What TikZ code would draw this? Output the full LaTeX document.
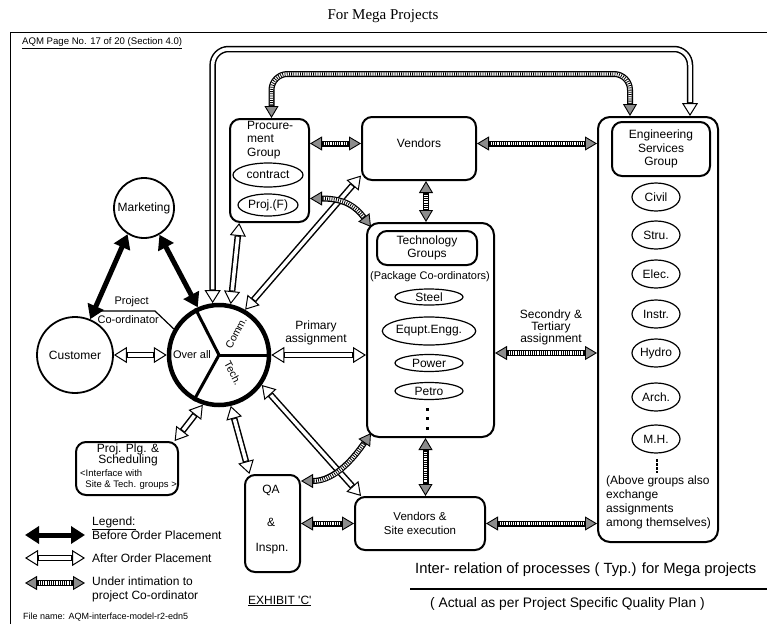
\documentclass[tikz,border=0pt]{standalone}
\usepackage{fontspec}
\setmainfont{Liberation Sans}
\newfontfamily\titlefont{Liberation Serif}
\usetikzlibrary{arrows.meta,shapes.geometric,calc}
\begin{document}
\begin{tikzpicture}[x=1pt,y=-1pt,
  every node/.style={inner sep=0pt},
  f12/.style={font=\fontsize{12}{13.5}\selectfont},
  f11/.style={font=\fontsize{11}{12}\selectfont},
  f9/.style={font=\fontsize{9.5}{11}\selectfont},
  box/.style={draw, line width=2pt, rounded corners=10pt},
  ell/.style={draw, ellipse, line width=1.2pt, f12},
  ba/.style={line width=5pt, {Triangle[length=14pt,width=17pt]}-{Triangle[length=14pt,width=17pt]}},
  wa/.style={line width=6.5pt, {Triangle[length=13pt,width=16pt,fill=white,line width=1pt]}-{Triangle[length=13pt,width=16pt,fill=white,line width=1pt]},
     postaction={draw=white, line width=3.5pt, -, shorten <=13.8pt, shorten >=13.8pt}},
  ha/.style={line width=6pt, {Triangle[length=12pt,width=14pt,fill=black!45,line width=0.9pt]}-{Triangle[length=12pt,width=14pt,fill=black!45,line width=0.9pt]},
     postaction={draw=white, line width=3.4pt, -, shorten <=12.8pt, shorten >=12.8pt},
     postaction={draw=black, line width=3.4pt, -, dash pattern=on 0.8pt off 1.4pt, shorten <=12.8pt, shorten >=12.8pt}},
]
\useasboundingbox (0,0) rectangle (767,624);
\fill[white] (0,0) rectangle (767,624);

% title and frame
\node[font=\titlefont\fontsize{15}{17}\selectfont] (title) at (383,16) {For Mega Projects};
\coordinate (fTL) at (10,32); \coordinate (fTR) at (767,32); \coordinate (fBL) at (10,624);
\draw[line width=1pt] (fBL) -- (fTL) -- (fTR);
\node[anchor=west, font=\fontsize{9.6}{10}\selectfont] (aqm) at (22,43) {\underline{AQM Page No. 17 of 20 (Section 4.0)}};

% circles
\node[circle, draw, line width=1.8pt, minimum size=60pt, f12] (mkt) at (144,208) {Marketing};
\node[circle, draw, line width=1.8pt, minimum size=76pt, f12] (cust) at (75,355) {Customer};
\node[circle, draw, line width=4.5pt, minimum size=100pt] (cen) at (219,355) {};
\draw[line width=3pt] (cen.center) -- (cen.0);
\draw[line width=3pt] (cen.center) -- (cen.117);
\draw[line width=3pt] (cen.center) -- (cen.241);
\node[f11] (ovr) at (192,355) {Over all};
\node[font=\fontsize{10.5}{11}\selectfont, rotate=62] (comm) at (236,333) {Comm.};
\node[font=\fontsize{10.5}{11}\selectfont, rotate=-62] (techl) at (233,373) {Tech.};

% project co-ordinator
\node[f11, anchor=east] (proj) at (149,302) {Project};
\node[f11, anchor=east] (coord) at (159,320) {Co-ordinator};
\coordinate (pcl) at (100,311); \coordinate (pcm) at (155,311);
\draw[line width=1.2pt] (pcl) -- (pcm) -- (cen.150);

% procurement
\node[box, minimum width=79pt, minimum height=103pt] (proc) at (269.5,170.5) {};
\node[f12, anchor=north west, align=left] (proct) at (247,121) {Procure-\\ment\\Group};
\node[ell, minimum width=70pt, minimum height=24pt] (contr) at (268,175) {contract};
\node[ell, minimum width=60pt, minimum height=22pt] (projf) at (268,205) {Proj.(F)};

% vendors
\node[box, minimum width=114pt, minimum height=63pt] (vend) at (419,148.5) {};
\node[f12] (vendt) at (419,143) {Vendors};

% technology
\node[box, minimum width=127pt, minimum height=214pt, rounded corners=12pt] (tech) at (430.5,330) {};
\node[box, minimum width=100pt, minimum height=34pt, f12, align=center] (techh) at (427,248) {Technology\\Groups};
\node[f11] (pkg) at (430,277) {(Package Co-ordinators)};
\node[ell, minimum width=68pt, minimum height=16pt] (steel) at (429,297) {Steel};
\node[ell, minimum width=92pt, minimum height=28pt] (eqpt) at (429,331) {Equpt.Engg.};
\node[ell, minimum width=68pt, minimum height=17pt] (power) at (429,363) {Power};
\node[ell, minimum width=68pt, minimum height=17pt] (petro) at (429,391) {Petro};
\fill (425.5,407.5) rectangle ++(3,3);
\fill (425.5,416.5) rectangle ++(3,3);
\fill (425.5,426.5) rectangle ++(3,3);

% engineering services
\node[box, minimum width=120pt, minimum height=425pt, rounded corners=12pt] (eng) at (658,329.5) {};
\node[box, minimum width=98pt, minimum height=54pt, f12, align=center] (engh) at (661,149) {Engineering\\Services\\Group};
\node[ell, minimum width=48pt, minimum height=28pt] (civ) at (656,197) {Civil};
\node[ell, minimum width=48pt, minimum height=28pt] (stru) at (656,235) {Stru.};
\node[ell, minimum width=48pt, minimum height=28pt] (elec) at (656,274) {Elec.};
\node[ell, minimum width=48pt, minimum height=28pt] (instr) at (656,314) {Instr.};
\node[ell, minimum width=48pt, minimum height=28pt] (hydro) at (656,353) {Hydro};
\node[ell, minimum width=48pt, minimum height=28pt] (arch) at (656,397) {Arch.};
\node[ell, minimum width=48pt, minimum height=28pt] (mh) at (656,439) {M.H.};
\draw[line width=2.5pt, dash pattern=on 2.5pt off 1.5pt] (657,459) -- (657,473);
\node[font=\fontsize{12}{13.7}\selectfont, anchor=north west, align=left] (engt) at (606,476) {(Above groups also\\exchange\\assignments\\among themselves)};

% proj plg
\node[box, minimum width=102pt, minimum height=53pt] (plg) at (127,468.5) {};
\node[font=\fontsize{12}{11.5}\selectfont, align=center] (plgt) at (128,455) {Proj. Plg. \&\\Scheduling};
\node[f9, align=left, anchor=west] (plgi) at (80,480) {<Interface with\\\ \ Site \& Tech. groups >};

% QA
\node[box, minimum width=55pt, minimum height=97pt] (qa) at (272.5,523.5) {};
\node[f12] (qat) at (271,490) {QA};
\node[f12] (qaa) at (271,522) {\&};
\node[f12] (qai) at (272,549) {Inspn.};

% vendors & site
\node[box, minimum width=130pt, minimum height=53pt, font=\fontsize{11.5}{14}\selectfont, align=center] (vs) at (420,523.5) {Vendors \&\\Site execution};

% black arrows
\draw[ba] (mkt.238) -- (cust.67);
\draw[ba] (mkt.300) -- (cen.114);

% white arrows
\draw[wa] (cust.east) -- (cen.west);
\draw[wa] (cen.east) -- (cen.east -| tech.west);
\draw[wa] (cen.77) -- (proc.240);
\draw[wa] (cen.60) -- (vend.205);
\draw[wa] (cen.-35) -- (vs.155);
\draw[wa] (cen.252) -- (plg.30);
\draw[wa] (cen.283) -- (qa.115);
\draw[wa, rounded corners=16pt] (cen.97) |- ($(eng.north)+(32,-67)$) -- ($(eng.north)+(32,0)$);
\node[f12, align=center] (prim) at (316,333) {Primary\\assignment};
\node[font=\fontsize{12}{12}\selectfont, align=center] (sec) at (551,327) {Secondry \&\\Tertiary\\assignment};

% hatched arrows
\coordinate (pv) at ($(vend.west)+(0,-5)$);
\draw[ha] (pv -| proc.east) -- (pv);
\draw[ha] (pv -| vend.east) -- (pv -| eng.west);
\coordinate (vt) at ($(vend.south)+(7,0)$);
\draw[ha] (vt) -- (vt |- tech.north);
\coordinate (tv) at ($(tech.south)+(-5,0)$);
\draw[ha] (tv) -- (tv |- vs.north);
\coordinate (te) at ($(tech.east)+(0,23)$);
\draw[ha] (te) -- (te -| eng.west);
\draw[ha] (vs.east) -- (vs.east -| eng.west);
\draw[ha] (qa.east) -- (vs.west);
\coordinate (qc) at ($(qa.north east)+(0,7)$);
\draw[ha] (qc) .. controls +(35,0) and +(-15,22) .. ($(tech.south west)+(5,-5)$);
\coordinate (pc) at ($(proc.east)+(0,28)$);
\draw[ha] (pc) .. controls +(35,0) and +(-15,-20) .. ($(tech.north west)+(5,5)$);
\coordinate (pn) at ($(proc.north)+(2,0)$);
\draw[ha, rounded corners=16pt] (pn) |- ($(eng.north)+(-28,-42)$) -- ($(eng.north)+(-28,0)$);

% legend
\node[f12, anchor=west] (leg) at (92,523) {\underline{Legend:}};
\coordinate (l1a) at (25,535); \coordinate (l1b) at (85,535);
\draw[ba] (l1a) -- (l1b);
\node[f12, anchor=west] (l1t) at (92,535) {Before Order Placement};
\coordinate (l2a) at (25,558); \coordinate (l2b) at (85,558);
\draw[wa] (l2a) -- (l2b);
\node[f12, anchor=west] (l2t) at (92,558) {After Order Placement};
\coordinate (l3a) at (25,583); \coordinate (l3b) at (85,583);
\draw[ha] (l3a) -- (l3b);
\node[font=\fontsize{12}{14}\selectfont, anchor=north west, align=left] (l3t) at (92,577) {Under intimation to\\project Co-ordinator};
\node[font=\fontsize{9}{10}\selectfont, anchor=west] (fn) at (23,617) {File name: AQM-interface-model-r2-edn5};

% bottom right
\node[f12, anchor=west] (exh) at (248,601) {\underline{EXHIBIT \textquotesingle C\textquotesingle}};
\node[font=\fontsize{14.8}{16}\selectfont, anchor=west] (rel) at (415,570) {Inter- relation of processes ( Typ.) for Mega projects};
\coordinate (ra) at (410,589); \coordinate (rb) at (767,589);
\draw[line width=2pt] (ra) -- (rb);
\node[font=\fontsize{13.8}{15}\selectfont, anchor=west] (act) at (430,604) {( Actual as per Project Specific Quality Plan )};
\end{tikzpicture}
\end{document}
